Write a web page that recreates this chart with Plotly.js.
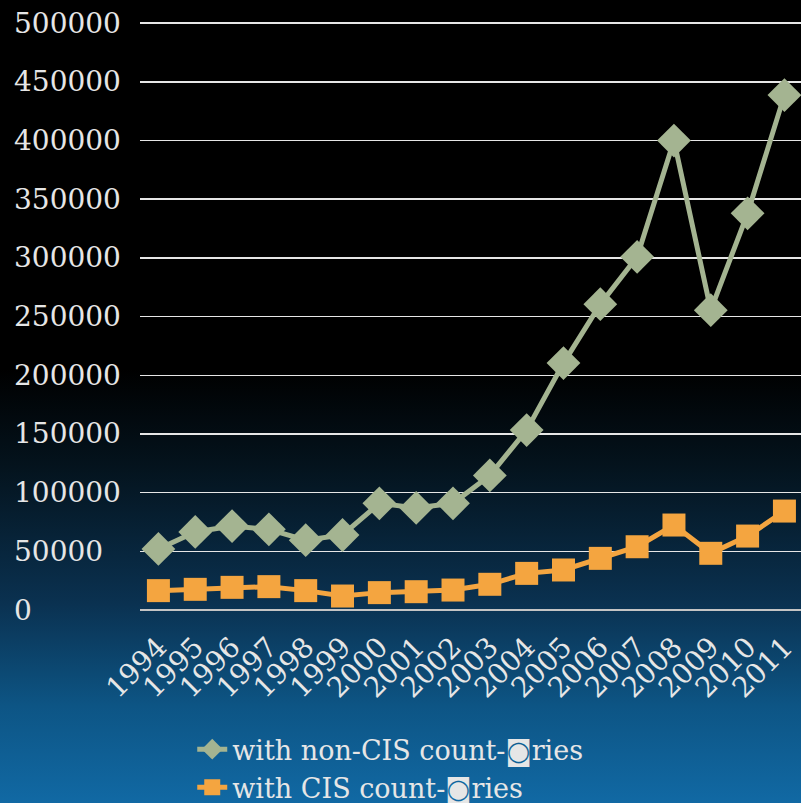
<!DOCTYPE html>
<html>
<head>
<meta charset="utf-8">
<script src="https://cdn.plot.ly/plotly-3.0.1.min.js"></script>
<style>
html, body { margin:0; padding:0; width:801px; height:803px; overflow:hidden; }
#bg { position:absolute; left:0; top:0; width:801px; height:803px;
  background: linear-gradient(to bottom, #000000 0%, #000000 46%, #04131d 58%, #0a3150 75%, #0d5585 88%, #1169a4 100%); }
#chart { position:absolute; left:0; top:0; width:801px; height:803px; }
</style>
</head>
<body>
<div id="bg"></div>
<div id="chart"></div>
<script>
const years = ['1994','1995','1996','1997','1998','1999','2000','2001','2002','2003','2004','2005','2006','2007','2008','2009','2010','2011'];
const nonCIS = [52000, 66500, 71500, 68700, 59500, 63900, 90900, 87000, 90900, 114700, 153300, 210400, 260600, 300900, 400000, 255500, 338000, 438700];
const cis = [16500, 17600, 19300, 19900, 16500, 11900, 14800, 15600, 17000, 21900, 31200, 34100, 44000, 53900, 72400, 48300, 63000, 84300];
const yTicks = [0, 50000, 100000, 150000, 200000, 250000, 300000, 350000, 400000, 450000, 500000];
const nameNonCIS = 'with non-CIS count-\u25D9ries';
const nameCIS = 'with CIS count-\u25D9ries';

const fontFam = '"DejaVu Serif", "Liberation Serif", serif';
const txtColor = '#e6e6e6';

const traces = [
  { x: years, y: nonCIS, name: nameNonCIS, type: 'scatter', mode: 'lines+markers',
    line: { color: '#a4b491', width: 5 },
    marker: { symbol: 'diamond', size: 26, color: '#a4b491' } },
  { x: years, y: cis, name: nameCIS, type: 'scatter', mode: 'lines+markers',
    line: { color: '#f4a540', width: 5 },
    marker: { symbol: 'square', size: 23, color: '#f4a540' } }
];

const annotations = yTicks.map(v => ({
  xref: 'paper', yref: 'y', x: -0.194, y: v, xanchor: 'left', yanchor: 'middle',
  text: String(v), showarrow: false, font: { family: fontFam, size: 28, color: txtColor }
}));

const layout = {
  width: 801, height: 803,
  margin: { l: 140, r: 0, t: 22, b: 193, autoexpand: false },
  paper_bgcolor: 'rgba(0,0,0,0)', plot_bgcolor: 'rgba(0,0,0,0)',
  showlegend: true,
  legend: { orientation: 'v', xref: 'container', yref: 'container', x: 0.24, xanchor: 'left',
    y: 0.097, yanchor: 'top',
    font: { family: fontFam, size: 27, color: txtColor }, bgcolor: 'rgba(0,0,0,0)',
    tracegroupgap: 0 },
  xaxis: { type: 'category', range: [-0.5, 17.45], showgrid: false, zeroline: false, showline: false,
    automargin: false, tickangle: -45, ticks: '', ticklabelstandoff: 14,
    tickfont: { family: fontFam, size: 28, color: txtColor } },
  yaxis: { range: [0, 501000], tickvals: yTicks, showticklabels: false, showgrid: true, automargin: false,
    gridcolor: '#e6e6e6', gridwidth: 1.5, zeroline: true, zerolinecolor: '#c4c4c4', zerolinewidth: 2.5,
    showline: false, ticks: '' },
  annotations: annotations
};

Plotly.newPlot('chart', traces, layout, { displayModeBar: false, staticPlot: true });
</script>
</body>
</html>
